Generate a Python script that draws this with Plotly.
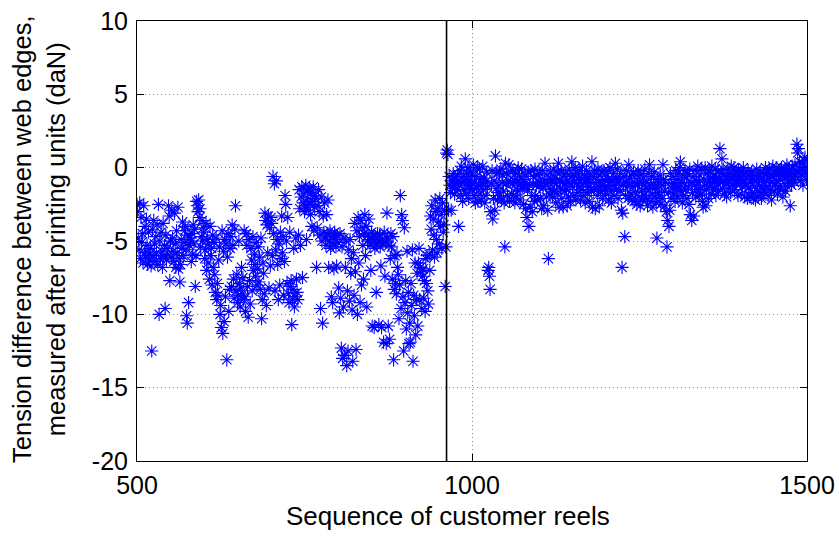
import plotly.graph_objects as go

# ---------------- data ----------------
FIRST_REEL = 500
CHANGE_REEL = 962          # position of the vertical black marker line
Y_LINE = [-20, 10]

tension_500 = [-2.5, -3.0, -4.8, -5.6, -2.4, -6.2, -3.4, -5.1, -4.5, -6.5, -2.6, -5.8, -4.0, -6.0, -3.5, -5.3, -6.6, -4.4, -5.9, -6.3]
tension_520 = [-5.5, -6.7, -12.5, -4.2, -6.0, -3.6, -5.2, -6.4, -4.7, -5.8, -3.9, -6.6, -2.5, -10.0, -5.0, -6.2, -4.4, -5.7, -6.8, -3.8]
tension_540 = [-6.0, -5.3, -9.6, -4.6, -6.3, -5.5, -5.9, -2.6, -3.3, -7.7, -5.0, -6.1, -2.9, -4.8, -5.7, -6.4, -3.1, -5.2, -6.8, -4.3]
tension_560 = [-5.8, -2.7, -6.9, -6.2, -7.8, -6.6, -4.9, -5.5, -3.7, -6.0, -5.1, -4.3, -4.0, -5.6, -10.1, -10.6, -4.6, -9.2, -5.3, -4.8]
tension_580 = [-5.0, -6.4, -4.5, -5.9, -3.9, -5.2, -4.2, -8.1, -6.0, -2.3, -2.6, -3.0, -2.2, -3.4, -2.8, -5.4, -4.7, -3.6, -5.0, -4.1]
tension_600 = [-4.4, -6.2, -5.6, -3.8, -7.0, -4.9, -6.5, -5.2, -7.6, -4.0, -6.0, -5.5, -8.0, -4.6, -6.8, -5.1, -7.3, -8.5, -4.8, -9.0]
tension_620 = [-7.9, -8.7, -6.3, -5.4, -10.0, -9.4, -10.9, -4.3, -11.3, -5.7, -10.5, -4.9, -8.8, -5.2, -13.1, -6.1, -4.5, -9.8, -8.3, -5.5]
tension_640 = [-4.7, -8.1, -3.9, -5.3, -7.6, -8.9, -4.2, -2.6, -8.4, -7.3, -9.2, -8.7, -5.0, -7.9, -9.5, -8.2, -6.8, -8.6, -7.5, -9.0]
tension_660 = [-4.3, -8.8, -9.8, -4.5, -5.3, -8.1, -10.2, -4.9, -7.7, -9.3, -5.5, -6.3, -8.4, -4.7, -7.0, -5.9, -6.6, -7.4, -5.1, -8.0]
tension_680 = [-6.9, -5.4, -7.8, -6.1, -8.3, -4.8, -10.3, -9.0, -6.5, -7.2, -8.6, -3.1, -3.6, -9.4, -3.9, -5.8, -3.3, -8.2, -4.1, -6.7]
tension_700 = [-3.4, -3.8, -6.0, -0.6, -4.5, -1.1, -8.4, -5.6, -0.9, -4.9, -6.6, -9.0, -5.2, -8.0, -4.4, -6.2, -3.3, -5.8, -4.7, -8.7]
tension_720 = [-6.4, -1.9, -2.5, -5.0, -7.9, -3.4, -8.6, -9.2, -4.4, -8.1, -7.7, -10.7, -9.0, -8.3, -5.5, -9.5, -8.8, -4.8, -7.6, -8.5]
tension_740 = [-9.0, -4.6, -1.5, -2.8, -5.3, -2.0, -1.3, -7.5, -2.4, -1.8, -3.0, -2.6, -1.2, -4.9, -2.2, -1.6, -2.9, -1.4, -2.5, -3.2]
tension_760 = [-1.7, -4.0, -2.3, -1.3, -4.3, -2.7, -1.9, -2.1, -6.8, -4.1, -2.6, -1.5, -3.0, -4.6, -9.6, -2.0, -5.0, -10.6, -3.3, -4.4]
tension_780 = [-2.4, -4.8, -5.3, -3.2, -4.5, -2.2, -6.8, -5.0, -4.3, -5.5, -8.8, -4.7, -9.2, -5.2, -6.9, -4.4, -4.9, -5.4, -6.7, -4.6]
tension_800 = [-5.1, -8.2, -9.9, -4.5, -8.9, -12.3, -5.4, -13.0, -9.5, -4.8, -12.8, -6.8, -5.0, -13.5, -8.4, -12.5, -5.6, -9.1, -4.9, -7.2]
tension_820 = [-6.2, -9.7, -13.2, -5.8, -8.7, -3.8, -7.1, -12.4, -4.3, -10.0, -3.4, -6.5, -4.7, -9.2, -3.6, -8.0, -4.1, -5.3, -7.6, -4.5]
tension_840 = [-3.2, -6.0, -4.0, -9.5, -5.0, -4.6, -3.5, -4.9, -5.3, -7.0, -4.4, -10.8, -5.1, -4.7, -10.9, -5.5, -4.8, -8.5, -5.2, -4.5]
tension_860 = [-5.0, -10.7, -4.6, -5.4, -6.7, -10.9, -4.9, -5.2, -11.9, -4.4, -7.4, -5.1, -12.0, -3.1, -4.8, -10.8, -5.3, -11.7, -6.2, -4.5]
tension_880 = [-5.4, -7.6, -4.7, -13.1, -8.3, -6.0, -7.9, -8.6, -5.9, -6.8, -7.3, -10.3, -8.0, -1.9, -9.6, -3.2, -3.6, -8.8, -12.5, -4.1]
tension_900 = [-9.2, -7.7, -11.0, -5.7, -9.9, -8.5, -12.0, -10.6, -11.9, -7.9, -9.4, -5.6, -13.2, -8.7, -10.1, -6.5, -11.4, -9.0, -7.2, -10.8]
tension_920 = [-6.5, -5.5, -9.0, -6.8, -7.1, -9.6, -7.4, -6.9, -8.9, -7.7, -9.8, -6.2, -7.9, -6.0, -8.4, -9.3, -5.9, -7.0, -3.3, -4.2]
tension_940 = [-2.6, -5.6, -3.5, -4.6, -6.1, -2.2, -3.0, -4.9, -5.8, -2.8, -3.7, -5.2, -2.1, -4.0, -3.2, -5.5, -2.4, -4.4, -3.9, -2.9]
tension_960 = [-8.1, -5.4, 1.0, 1.2, 0.9, -2.9, -0.6, -1.2, -1.7, -2.9, -0.9, -1.4, -0.4, -1.1, -1.8, -0.7, -1.3, -1.0, -0.5, -1.5]
tension_980 = [-4.0, -1.2, -0.2, -1.9, 0.1, -1.0, -2.3, -0.6, -1.5, -0.9, 0.6, -1.8, -0.4, -1.1, 0.0, -2.1, -0.9, -1.4, -0.3, -1.2]
tension_1000 = [-0.5, -1.5, 0.2, -1.9, -1.0, -2.4, -0.6, -1.4, 0.0, -2.3, -1.2, -0.1, -1.8, -0.8, -2.2, -1.1, 0.1, -1.5, -0.7, -2.4]
tension_1020 = [-1.0, -1.9, -0.3, -1.3, -7.0, -6.8, -7.4, -8.3, -3.0, -1.1, -0.2, -3.5, -2.1, -0.9, -2.9, 0.8, -1.4, -0.4, -2.2, -1.7]
tension_1040 = [-1.2, -0.3, -1.9, -0.1, -2.2, -1.0, -0.5, -1.6, -2.4, -5.4, 0.3, -1.1, -0.4, -1.9, -0.9, 0.2, -2.3, -1.0, -0.3, -1.8]
tension_1060 = [-1.1, -0.2, -1.9, -0.9, -2.4, -0.4, -2.0, -1.0, -1.6, 0.0, -1.2, -0.6, -2.2, -1.1, -0.1, -1.4, -0.8, -2.5, -1.3, -0.5]
tension_1080 = [-2.8, -1.0, -3.4, -1.5, -0.3, -4.0, -1.2, -2.7, -0.2, -1.9, -3.0, -1.1, -0.6, -2.3, -0.1, -1.9, -1.2, -0.5, -2.2, -1.0]
tension_1100 = [-1.3, -0.4, -2.1, -1.1, -2.8, -0.2, -1.4, -2.6, -0.9, 0.3, -1.2, -2.0, -0.5, -2.9, -6.2, -1.0, -1.8, -0.3, -1.5, -0.8]
tension_1120 = [-2.0, -1.0, -0.1, -1.6, -0.7, -2.4, -1.1, -0.3, -1.8, 0.3, -2.7, -0.9, -1.4, -0.2, -2.1, -1.0, -2.7, -0.5, -1.6, -1.1]
tension_1140 = [-0.4, -1.5, -2.6, -0.9, -2.0, -0.1, -1.1, -2.3, -0.6, 0.4, -1.3, -0.5, -1.9, -1.0, 0.0, -2.2, -1.1, -0.4, -1.7, -0.8]
tension_1160 = [-1.3, -0.2, -2.2, -0.8, -1.5, 0.1, -1.1, -1.9, -0.5, -2.4, -1.0, -0.2, -1.7, -0.7, -1.3, -2.3, -0.4, -1.0, -1.6, 0.4]
tension_1180 = [-2.7, -0.6, -1.5, -0.2, -2.8, -1.1, -0.8, -1.9, -0.1, -1.3, -2.6, -0.5, -1.6, -1.0, -0.3, -2.1, -1.2, -0.2, -1.5, -0.9]
tension_1200 = [-1.8, -0.6, -1.3, -0.2, -2.2, -1.0, 0.0, -1.6, -2.4, -0.8, -1.2, -0.4, -1.9, -1.2, 0.3, -0.7, -1.5, -0.1, -2.1, -1.0]
tension_1220 = [-0.9, -1.6, -0.4, -2.9, -6.8, -3.1, -1.2, -0.6, -4.7, -1.9, -1.0, -0.2, -1.3, -2.1, 0.2, -0.7, -1.1, -1.8, -0.5, -2.2]
tension_1240 = [-1.3, -0.3, -2.3, -1.0, -1.7, -0.5, -2.5, -1.2, -0.2, -2.0, -1.0, -2.6, -0.5, -1.6, -1.1, -2.2, -0.7, -1.9, -0.1, -1.4]
tension_1260 = [-2.1, -1.0, -2.6, -0.4, -1.5, 0.2, -1.2, -2.3, -0.6, -1.8, -2.7, -1.1, -0.3, -2.0, -1.4, -2.4, -4.8, -0.8, -1.7, -1.0]
tension_1280 = [-1.9, -0.5, -2.5, -1.2, -2.1, 0.2, -0.8, -1.6, -2.6, -1.0, -3.0, -5.4, -3.6, -1.7, -4.0, -2.9, -0.4, -2.1, -1.1, -1.4]
tension_1300 = [-0.6, -1.8, -1.1, -2.3, -0.2, -1.4, -0.8, -2.0, -0.4, -1.3, 0.0, 0.4, -1.6, -1.0, -2.4, -0.5, -1.9, -1.1, -0.2, -1.5]
tension_1320 = [-0.7, -2.1, -0.4, -1.3, -2.5, -0.1, -3.2, -1.0, -3.6, -1.7, -0.6, -3.3, -1.2, -0.2, -2.0, -0.9, -1.5, 0.1, -1.0, -1.9]
tension_1340 = [-0.5, -1.4, -0.1, -1.8, -2.3, -2.7, -0.8, -1.2, 0.0, -2.6, -1.5, -0.4, -1.0, -2.1, -0.2, -1.3, -0.7, -1.8, 0.1, -1.0]
tension_1360 = [-0.6, -1.5, -0.9, -0.1, -1.9, -0.7, -1.1, -0.2, -1.6, -0.8, 1.3, -1.0, -0.4, 0.6, -1.4, -0.1, -0.9, -1.8, -0.5, -1.1]
tension_1380 = [-2.0, -0.6, -0.1, -1.4, -0.9, -0.4, -1.7, 0.1, -0.8, -1.2, -0.5, 0.0, -1.5, -0.9, -0.3, -1.1, -0.6, -1.9, -0.2, -0.8]
tension_1400 = [-1.1, -0.3, -1.8, -0.6, -1.3, 0.0, -0.9, -2.0, -0.4, -1.2, -0.7, -2.1, -0.2, -1.4, -0.5, -2.0, -1.0, -0.3, -1.7, -0.8]
tension_1420 = [-2.1, -0.5, -1.3, -2.2, -0.9, -0.1, -1.6, -2.0, -0.6, -1.2, -0.3, -1.8, -2.1, -0.7, -1.4, -0.4, -1.0, -1.7, 0.0, -0.9]
tension_1440 = [-1.3, -0.4, -1.9, -0.7, -0.1, -1.5, -0.5, -2.2, -1.0, 0.1, -0.6, -1.6, -0.3, -1.2, 0.0, -0.9, -1.8, -0.4, -1.3, -0.2]
tension_1460 = [-0.8, -1.5, 0.0, -0.5, -2.0, -0.3, -1.1, -0.1, -1.6, -0.6, 0.2, -1.3, -0.4, -0.9, -0.2, -2.6, -0.5, -1.2, 0.1, -0.8]
tension_1480 = [-0.4, -1.0, 0.2, -0.6, -0.2, 1.6, 1.0, 1.3, -0.3, 0.4, -0.9, -0.1, -0.5, 0.3, -1.2, -0.2, 0.5, 0.7, -0.4, -0.8, 0.1]

tension = (tension_500 + tension_520 + tension_540 + tension_560 + tension_580 +
           tension_600 + tension_620 + tension_640 + tension_660 + tension_680 +
           tension_700 + tension_720 + tension_740 + tension_760 + tension_780 +
           tension_800 + tension_820 + tension_840 + tension_860 + tension_880 +
           tension_900 + tension_920 + tension_940 + tension_960 + tension_980 +
           tension_1000 + tension_1020 + tension_1040 + tension_1060 + tension_1080 +
           tension_1100 + tension_1120 + tension_1140 + tension_1160 + tension_1180 +
           tension_1200 + tension_1220 + tension_1240 + tension_1260 + tension_1280 +
           tension_1300 + tension_1320 + tension_1340 + tension_1360 + tension_1380 +
           tension_1400 + tension_1420 + tension_1440 + tension_1460 + tension_1480)
reels = list(range(FIRST_REEL, FIRST_REEL + len(tension)))

X_TICKS = [500, 1000, 1500]
Y_TICKS = [-20, -15, -10, -5, 0, 5, 10]
X_RANGE = [500, 1500]
Y_RANGE = [-20, 10]

X_TITLE = "Sequence of customer reels"
Y_TITLE = "Tension difference between web edges,<br>measured after printing units (daN)"

# ---------------- figure ----------------
FONT = "Liberation Sans, Arial, sans-serif"

fig = go.Figure()
fig.add_trace(go.Scatter(
    x=reels, y=tension, mode="markers",
    marker=dict(symbol="asterisk-open", size=11, color="rgb(0,0,255)",
                line=dict(width=1.1, color="rgb(0,0,255)")),
    showlegend=False, hoverinfo="x+y",
))
fig.add_trace(go.Scatter(
    x=[CHANGE_REEL, CHANGE_REEL], y=Y_LINE, mode="lines",
    line=dict(color="black", width=1.6), showlegend=False, hoverinfo="skip",
))

axis_common = dict(
    showline=True, linecolor="black", linewidth=1, mirror="ticks",
    ticks="inside", ticklen=7, tickwidth=1, tickcolor="black",
    showgrid=True, gridcolor="#8a8a8a", gridwidth=1, griddash="1px,3px",
    zeroline=False, automargin=False,
    tickfont=dict(family=FONT, size=25, color="black"),
)

fig.update_xaxes(range=X_RANGE, tickvals=X_TICKS, ticktext=[str(v) for v in X_TICKS],
                 ticklabelstandoff=2, **axis_common)
fig.update_yaxes(range=Y_RANGE, tickvals=Y_TICKS, ticktext=[str(v) for v in Y_TICKS],
                 ticklabelstandoff=3, **axis_common)

fig.update_layout(
    width=839, height=536,
    margin=dict(l=137, r=32, t=21, b=75, autoexpand=False),
    paper_bgcolor="white", plot_bgcolor="white",
    font=dict(family=FONT, size=25, color="black"),
    annotations=[
        dict(text=X_TITLE, xref="paper", yref="paper", x=0.464, y=-0.125,
             xanchor="center", yanchor="middle", showarrow=False,
             font=dict(family=FONT, size=26, color="black")),
        dict(text=Y_TITLE, xref="paper", yref="paper", x=-0.146, y=0.505,
             xanchor="center", yanchor="middle", showarrow=False, textangle=-90,
             font=dict(family=FONT, size=25.5, color="black")),
    ],
)

fig.write_html("out.html")
